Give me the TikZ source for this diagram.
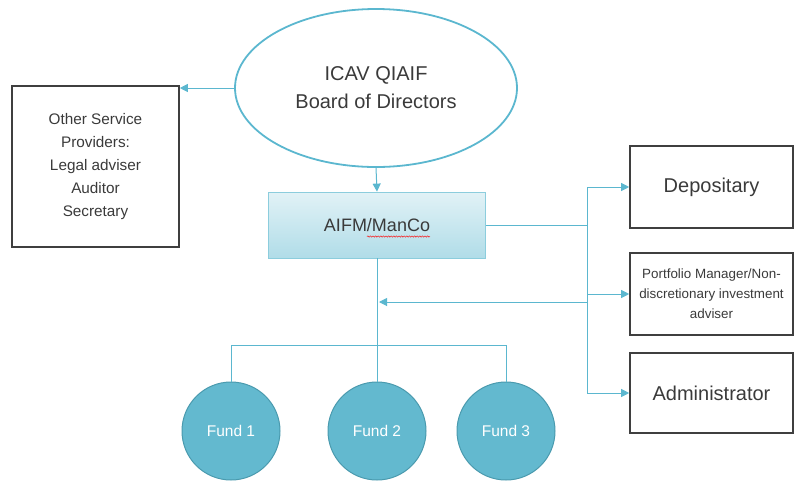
\documentclass[tikz,border=0pt]{standalone}
\usepackage{fontspec}
\setmainfont{Liberation Sans}
\usepackage{xcolor}
\usetikzlibrary{shapes.geometric,arrows.meta,decorations.pathmorphing}

\definecolor{linkblue}{HTML}{5BB7CF}
\definecolor{fundfill}{HTML}{63B9CF}
\definecolor{fundedge}{HTML}{4A9AAE}
\definecolor{boxedge}{HTML}{3F3F3F}
\definecolor{txtgray}{HTML}{3A3A3A}

\tikzset{
  link/.style={draw=linkblue, line width=1pt},
  arr/.style={link, -{Triangle[width=8pt,length=8pt]}},
  sidebox/.style={draw=boxedge, line width=1.6pt, text=txtgray, align=center},
  fund/.style={circle, draw=fundedge, line width=1pt, fill=fundfill, minimum size=98pt,
    text=white, font=\fontsize{15.5}{18}\selectfont}
}

\begin{document}
\begin{tikzpicture}[x=1pt,y=-1pt]
\useasboundingbox (0,0) rectangle (795,483);
\node[ellipse, draw=linkblue, line width=1.8pt, minimum width=282pt, minimum height=158pt,
  text=txtgray, align=center, font=\fontsize{20}{28}\selectfont] (board) at (376,88)
  {ICAV QIAIF\\Board of Directors};
\node[sidebox, minimum width=167pt, minimum height=161pt, font=\fontsize{15.3}{23}\selectfont]
  (other) at (95.5,166.5) {Other Service\\Providers:\\Legal adviser\\Auditor\\Secretary};
\node[draw=linkblue!70, line width=0.8pt, top color=linkblue!18, bottom color=linkblue!48,
  minimum width=217pt, minimum height=66pt, text=txtgray, font=\fontsize{18}{22}\selectfont]
  (aifm) at (377,225) {AIFM/ManCo};
\draw[red, line width=0.4pt, decorate, decoration={snake, amplitude=0.7pt, segment length=2.6pt}]
  (367,236.5) -- (430,236.5);
\node[sidebox, minimum width=163pt, minimum height=82pt, font=\fontsize{20}{24}\selectfont]
  (dep) at (711.5,187) {Depositary};
\node[sidebox, minimum width=163pt, minimum height=82pt, font=\fontsize{13.4}{20}\selectfont]
  (pm) at (711.5,294) {Portfolio Manager/Non-\\discretionary investment\\adviser};
\node[sidebox, minimum width=163pt, minimum height=80pt, font=\fontsize{20}{24}\selectfont]
  (admin) at (711.5,393) {Administrator};
\node[fund] (fund1) at (231,431) {Fund 1};
\node[fund] (fund2) at (377,431) {Fund 2};
\node[fund] (fund3) at (506,431) {Fund 3};
\coordinate (split) at (587,225);
\coordinate (back) at (587,302);
\coordinate (fbus) at (377,345);
\draw[arr] (board.west) -- (board.west -| other.east);
\draw[arr] (board.south) -- (aifm.north);
\draw[link] (aifm.east) -- (split);
\draw[link] (split |- dep.west) -- (split |- admin.west);
\foreach \b in {dep,pm,admin}
  \draw[arr] (split |- \b.west) -- (\b.west);
\draw[arr, shorten >=2pt] (back) -- (back -| aifm.south);
\draw[link] (aifm.south) -- (fund2.north);
\draw[link] (fund1.north) -- (fund1.north |- fbus) -- (fund3.north |- fbus) -- (fund3.north);
\end{tikzpicture}
\end{document}
